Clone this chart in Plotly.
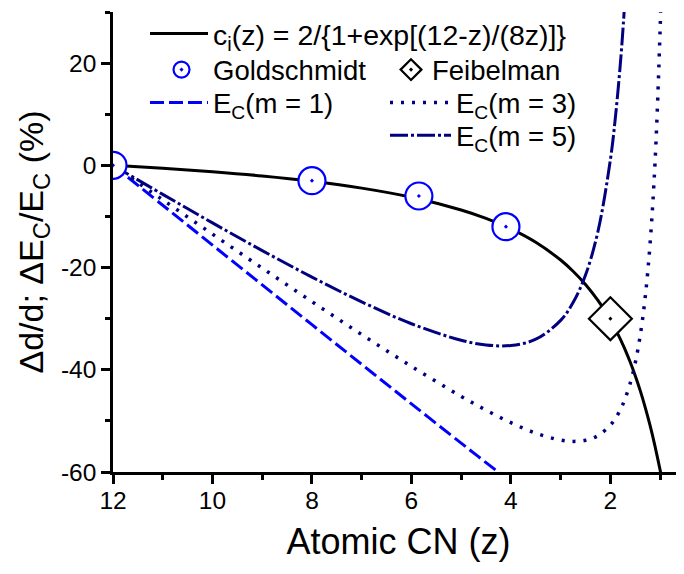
import plotly.graph_objects as go

# Atomic coordination number samples
z_curve = [12, 11, 10, 9, 8, 7, 6, 5, 4.5, 4, 3.5, 3, 2.75, 2.5, 2.25, 2, 1.9, 1.8,
           1.75, 1.7, 1.6, 1.5, 1.4, 1.3, 1.2, 1.1, 1.0, 0.95]
# bond contraction c_i(z) - 1 (%)
d_ci = [0, -0.57, -1.25, -2.08, -3.12, -4.46, -6.24, -8.73, -10.38, -12.44, -15.06,
        -18.53, -20.72, -23.31, -26.44, -30.27, -32.05, -34.01, -35.06, -36.16,
        -38.53, -41.16, -44.08, -47.34, -50.98, -55.07, -59.64, -62.12]

z_m1 = [12, 11, 10, 9, 8, 7, 6, 5, 4.5, 4]
e_m1 = [0, -7.81, -15.61, -23.40, -31.18, -38.94, -46.67, -54.35, -58.16, -61.93]

z_m3 = z_curve
e_m3 = [0, -6.75, -13.46, -20.11, -26.67, -33.11, -39.33, -45.20, -47.90, -50.35,
        -52.40, -53.76, -54.01, -53.80, -52.89, -50.84, -49.53, -47.81, -46.76,
        -45.56, -42.60, -38.65, -33.28, -25.82, -15.09, 1.03, 26.73, 45.66]

z_m5 = [12, 11, 10, 9, 8, 7, 6, 5, 4.5, 4, 3.5, 3, 2.75, 2.5, 2.25, 2, 1.9, 1.8, 1.75, 1.7]
e_m5 = [0, -5.68, -11.26, -16.68, -21.87, -26.71, -30.99, -34.22, -35.14, -35.25,
        -34.02, -30.33, -26.84, -21.45, -12.94, 1.11, 9.32, 19.83, 26.22, 33.56]

gold_z = [12, 8, 5.85, 4.1]
gold_y = [0, -3, -6, -12]

feib_z = [2]
feib_y = [-30]

x_ticks = [12, 10, 8, 6, 4, 2]
x_tick_text = ["12", "10", "8", "6", "4", "2"]
y_ticks = [-60, -40, -20, 0, 20]
y_tick_text = ["-60", "-40", "-20", "0", "20"]

FONT = "Liberation Sans, Arial, sans-serif"
NAVY = "#000080"
BLUE = "#0000FF"

fig = go.Figure()

fig.add_trace(go.Scatter(
    x=z_curve, y=d_ci, mode="lines", line=dict(color="black", width=3, shape="spline"),
    name="c<sub>i</sub>(z) = 2/{1+exp[(12-z)/(8z)]}", legend="legend"))
fig.add_trace(go.Scatter(
    x=z_m1, y=e_m1, mode="lines", line=dict(color=BLUE, width=3, dash="14px,5px", shape="spline"),
    name="E<sub>C</sub>(m = 1)", legend="legend3"))
fig.add_trace(go.Scatter(
    x=z_m3, y=e_m3, mode="lines", line=dict(color=NAVY, width=3.5, dash="3px,8px", shape="spline"),
    name="E<sub>C</sub>(m = 3)", legend="legend5"))
fig.add_trace(go.Scatter(
    x=z_m5, y=e_m5, mode="lines", line=dict(color=NAVY, width=3, dash="18px,3px,3px,3px", shape="spline"),
    name="E<sub>C</sub>(m = 5)", legend="legend6"))
fig.add_trace(go.Scatter(
    x=gold_z, y=gold_y, mode="markers",
    marker=dict(symbol="circle-dot", size=27, color="white", line=dict(color=BLUE, width=2.2)),
    name="Goldschmidt", legend="legend2"))
fig.add_trace(go.Scatter(
    x=feib_z, y=feib_y, mode="markers",
    marker=dict(symbol="diamond-dot", size=33, color="white", line=dict(color="black", width=2.2)),
    name="Feibelman", legend="legend4"))

axis_common = dict(
    showgrid=False, zeroline=False, showline=True, linecolor="black", linewidth=2.5,
    ticks="outside", ticklen=9, tickwidth=2.5, tickcolor="black", automargin=False,
    tickfont=dict(family=FONT, size=24.5, color="black"),
)

fig.update_xaxes(
    range=[12, 0.52], tickmode="array", tickvals=x_ticks, ticktext=x_tick_text,
    ticklabelstandoff=-4,
    minor=dict(dtick=1, ticks="outside", ticklen=5, tickwidth=2.5, tickcolor="black"),
    title=dict(text="Atomic CN (z)", font=dict(family=FONT, size=36, color="black"), standoff=16),
    **axis_common)
fig.update_yaxes(
    range=[-60, 30], tickmode="array", tickvals=y_ticks, ticktext=y_tick_text,
    minor=dict(dtick=10, ticks="outside", ticklen=5, tickwidth=2.5, tickcolor="black"),
    title=dict(text="Δd/d; ΔE<sub>C</sub>/E<sub>C</sub> (%)", font=dict(family=FONT, size=34, color="black"), standoff=8),
    **axis_common)

# the page body adds an 8 px offset; the plot area should sit at x 113..684, y 10..472
PLOT_L, PLOT_W, PLOT_T, PLOT_H = 113, 571, 10, 462


def leg(px_left, py_center, itemwidth, size=27.5):
    return dict(
        x=(px_left - PLOT_L) / PLOT_W, y=1 - (py_center - PLOT_T) / PLOT_H,
        xanchor="left", yanchor="middle", bgcolor="rgba(0,0,0,0)", borderwidth=0,
        itemwidth=itemwidth, font=dict(family=FONT, size=size, color="black"),
    )


fig.update_layout(
    width=676, height=566,
    margin=dict(l=105, r=0, t=2, b=102),
    paper_bgcolor="white", plot_bgcolor="white",
    showlegend=True,
    legend=leg(145, 32, 58, size=28.5),
    legend2=leg(150, 68, 53),
    legend3=leg(145, 101, 58),
    legend4=leg(390, 68, 32),
    legend5=leg(385, 101, 61),
    legend6=leg(385, 134, 61),
)

fig.write_html("out.html")
